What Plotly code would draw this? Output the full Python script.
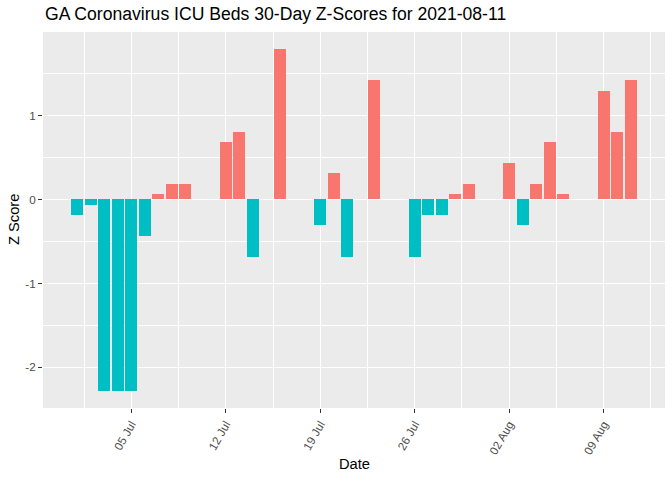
import plotly.graph_objects as go
import pandas as pd

dates = ["2021-07-01", "2021-07-02", "2021-07-03", "2021-07-04", "2021-07-05",
         "2021-07-06", "2021-07-07", "2021-07-08", "2021-07-09",
         "2021-07-12", "2021-07-13", "2021-07-14", "2021-07-16",
         "2021-07-19", "2021-07-20", "2021-07-21", "2021-07-23",
         "2021-07-26", "2021-07-27", "2021-07-28", "2021-07-29", "2021-07-30",
         "2021-08-02", "2021-08-03", "2021-08-04", "2021-08-05", "2021-08-06",
         "2021-08-09", "2021-08-10", "2021-08-11"]
z_scores = [-0.19, -0.07, -2.28, -2.28, -2.28,
            -0.44, 0.06, 0.18, 0.18,
            0.68, 0.80, -0.68, 1.79,
            -0.31, 0.31, -0.68, 1.42,
            -0.68, -0.19, -0.19, 0.06, 0.18,
            0.43, -0.31, 0.18, 0.68, 0.06,
            1.29, 0.80, 1.42]

x_tick_vals = ["2021-07-05", "2021-07-12", "2021-07-19", "2021-07-26", "2021-08-02", "2021-08-09"]
x_tick_text = ["05 Jul", "12 Jul", "19 Jul", "26 Jul", "02 Aug", "09 Aug"]
y_tick_vals = [-2, -1, 0, 1]
y_tick_text = ["-2", "-1", "0", "1"]

POS = "#F8766D"
NEG = "#00BFC4"
DAY_MS = 86400000

x = pd.to_datetime(dates)
colors = [POS if v > 0 else NEG for v in z_scores]

fig = go.Figure(go.Bar(
    x=x, y=z_scores, width=[0.9 * DAY_MS] * len(dates),
    marker=dict(color=colors, line=dict(width=0)),
    showlegend=False,
))

xmin = x.min() - pd.Timedelta(hours=0.45 * 24)
xmax = x.max() + pd.Timedelta(hours=0.45 * 24)
xpad = (xmax - xmin) * 0.05
ymin, ymax = min(z_scores), max(z_scores)
ypad = (ymax - ymin) * 0.05

FONT = "Liberation Sans, Arial, sans-serif"
L, R, T, B = 43, 7, 32, 72

fig.update_layout(
    width=672, height=480,
    margin=dict(l=L, r=R, t=T, b=B, autoexpand=False),
    paper_bgcolor="white",
    plot_bgcolor="#EBEBEB",
    font=dict(family=FONT, color="black"),
    bargap=0,
    annotations=[
        dict(text="GA Coronavirus ICU Beds 30-Day Z-Scores for 2021-08-11",
             xref="paper", yref="paper", x=0, y=1 + 18 / (480 - T - B),
             xanchor="left", yanchor="middle", showarrow=False,
             font=dict(size=17.6, color="black")),
        dict(text="Date", xref="paper", yref="paper", x=0.5,
             y=-(464 - (480 - B)) / (480 - T - B), xanchor="center", yanchor="middle",
             showarrow=False, font=dict(size=14.7, color="black")),
        dict(text="Z Score", xref="paper", yref="paper", x=-(L - 14) / (672 - L - R),
             y=0.5, xanchor="center", yanchor="middle", textangle=-90,
             showarrow=False, font=dict(size=14.7, color="black")),
    ],
)
fig.update_xaxes(
    range=[xmin - xpad, xmax + xpad], automargin=False,
    tickvals=pd.to_datetime(x_tick_vals), ticktext=x_tick_text,
    tickangle=-60, tickfont=dict(size=11.7, color="#4D4D4D"),
    ticks="outside", ticklen=4, tickcolor="#333333", tickwidth=1,
    showgrid=True, gridcolor="white", gridwidth=1.1,
    minor=dict(showgrid=True, gridcolor="white", gridwidth=0.5,
               tick0="2021-07-01 12:00", dtick=7 * DAY_MS, ticks=""),
    zeroline=False, showline=False,
)
fig.update_yaxes(
    range=[ymin - ypad, ymax + ypad], automargin=False,
    tickvals=y_tick_vals, ticktext=y_tick_text,
    tickfont=dict(size=11.7, color="#4D4D4D"),
    ticks="outside", ticklen=4, tickcolor="#333333", tickwidth=1,
    showgrid=True, gridcolor="white", gridwidth=1.1,
    minor=dict(showgrid=True, gridcolor="white", gridwidth=0.5,
               tick0=0.5, dtick=1, ticks=""),
    zeroline=False, showline=False,
)

fig.write_html("out.html", config={"displayModeBar": False},
               post_script="document.body.style.margin='0';document.body.style.overflow='hidden';")
